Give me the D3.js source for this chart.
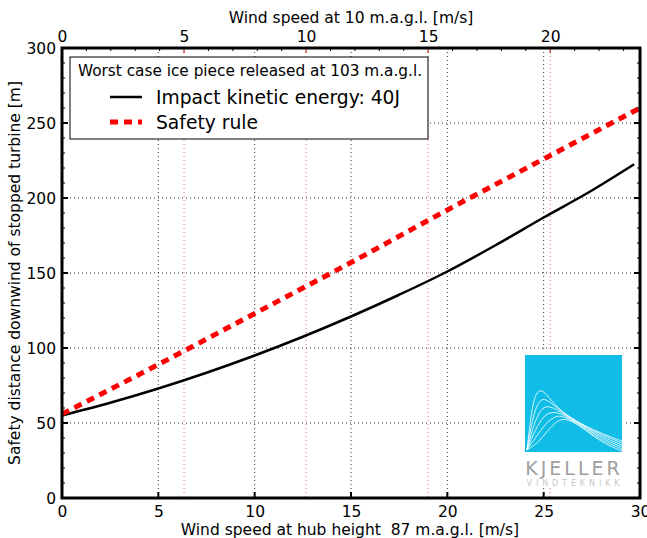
<!DOCTYPE html>
<html><head><meta charset="utf-8">
<script src="https://cdn.jsdelivr.net/npm/d3@7"></script>
<style>body{margin:0;background:#fff}svg{display:block;font-family:"DejaVu Sans",sans-serif}</style>
</head><body><svg id="c" width="647" height="538"></svg>
<script>
// Data
const hubWind = [0, 2.5, 5, 7.5, 10, 12.5, 15, 17.5, 20, 22.5, 25, 27.5, 29.7];
const impactDist = [55, 63.5, 73, 83.5, 95, 107.5, 121, 135.5, 151, 168.5, 187, 205, 222.5];
const ruleWind = [0, 5, 10, 15, 20, 25, 30];
const ruleDist = [56, 89, 123, 157, 192, 226, 260];
const xTicks = [0, 5, 10, 15, 20, 25, 30];
const yTicks = [0, 50, 100, 150, 200, 250, 300];
const topTicks = [0, 5, 10, 15, 20];
const topMax = 23.68;
const legendTitle = "Worst case ice piece released at 103 m.a.g.l.";
const seriesNames = ["Impact kinetic energy: 40J", "Safety rule"];

const svg = d3.select("#c");
const L = 62, R = 640, T = 48, B = 498;
const x = d3.scaleLinear().domain([0, 30]).range([L, R]);
const xt = d3.scaleLinear().domain([0, topMax]).range([L, R]);
const y = d3.scaleLinear().domain([0, 300]).range([B, T]);

// grid
const g = svg.append("g");
g.selectAll(".vg").data(xTicks.slice(1, -1)).enter().append("line")
  .attr("x1", d => x(d)).attr("x2", d => x(d)).attr("y1", T).attr("y2", B)
  .attr("stroke", "#000").attr("stroke-width", 1).attr("stroke-dasharray", "1,3").attr("opacity", 0.8);
g.selectAll(".hg").data(yTicks.slice(1, -1)).enter().append("line")
  .attr("x1", L).attr("x2", R).attr("y1", d => y(d)).attr("y2", d => y(d))
  .attr("stroke", "#000").attr("stroke-width", 1).attr("stroke-dasharray", "1,3").attr("opacity", 0.8);
g.selectAll(".tg").data(topTicks.slice(1)).enter().append("line")
  .attr("x1", d => xt(d)).attr("x2", d => xt(d)).attr("y1", T).attr("y2", B)
  .attr("stroke", "#f00").attr("stroke-width", 1).attr("stroke-dasharray", "1,3").attr("opacity", 0.6);

// logo
const lg = svg.append("g").attr("transform", "translate(525,355)");
lg.append("rect").attr("x", -4).attr("y", -3).attr("width", 105).attr("height", 136).attr("fill", "#fff");
lg.append("rect").attr("width", 97).attr("height", 97).attr("fill", "#0fbde6");
const logoCurves = [
  [[2,95],[7,50],[13,33],[21,38],[31,52],[50,66],[75,78],[97,86]],
  [[2,95],[8,60],[15,43],[23,45],[33,54],[50,66],[75,79],[97,88]],
  [[2,95],[9,68],[17,52],[25,51],[34,56],[50,66],[75,81],[97,90]],
  [[2,95],[10,75],[19,60],[27,57],[35,58],[50,66],[75,83],[97,92]],
  [[2,95],[11,82],[21,68],[29,62],[36,60],[50,67],[75,85],[97,94]],
  [[2,95],[13,88],[23,75],[31,67],[38,63],[52,68],[75,87],[97,96]]
];
const ll = d3.line().curve(d3.curveBasis);
lg.selectAll(".lc").data(logoCurves).enter().append("path")
  .attr("d", d => ll(d)).attr("fill", "none").attr("stroke", "#fff").attr("stroke-width", 0.9).attr("opacity", 0.9);
lg.append("text").attr("x", 49).attr("y", 120).attr("text-anchor", "middle")
  .attr("font-size", 19).attr("fill", "#a0a0a0").attr("letter-spacing", 3).text("KJELLER");
lg.append("text").attr("x", 50).attr("y", 131).attr("text-anchor", "middle")
  .attr("font-size", 8).attr("fill", "#c8c8c8").attr("letter-spacing", 3.9).text("VINDTEKNIKK");

// lines
const line = d3.line().x(d => x(d[0])).y(d => y(d[1])).curve(d3.curveMonotoneX);
svg.append("path").attr("d", line(hubWind.map((w, i) => [w, impactDist[i]])))
  .attr("fill", "none").attr("stroke", "#000").attr("stroke-width", 2.5);
svg.append("path").attr("d", line(ruleWind.map((w, i) => [w, ruleDist[i]])))
  .attr("fill", "none").attr("stroke", "#f00").attr("stroke-width", 5).attr("stroke-dasharray", "8,6");

// axes
const fs = 15.5;
const axB = svg.append("g").attr("transform", `translate(0,${B})`)
  .call(d3.axisBottom(x).tickValues(xTicks).tickSize(0).tickPadding(7).tickFormat(d3.format("d")));
const axL = svg.append("g").attr("transform", `translate(${L},0)`)
  .call(d3.axisLeft(y).tickValues(yTicks).tickSize(0).tickPadding(6).tickFormat(d3.format("d")));
const axT = svg.append("g").attr("transform", `translate(0,${T})`)
  .call(d3.axisTop(xt).tickValues(topTicks).tickSize(0).tickPadding(6).tickFormat(d3.format("d")));
[axB, axL, axT].forEach(a => {
  a.select(".domain").remove();
  a.selectAll("text").attr("font-size", fs).attr("fill", "#000").attr("font-family", "DejaVu Sans");
});
axL.selectAll("text").attr("dy", "0.35em");
axB.selectAll("text").attr("dy", "0.8em");

// tick marks (inward)
const tk = svg.append("g").attr("stroke", "#000");
tk.selectAll(".bt").data(xTicks).enter().append("line")
  .attr("x1", d => x(d)).attr("x2", d => x(d)).attr("y1", B).attr("y2", B - 6).attr("stroke-width", 2);
tk.selectAll(".ymin").data(d3.range(0, 301, 10)).enter().append("line")
  .attr("x1", L).attr("x2", d => L + (d % 50 === 0 ? 6 : 3)).attr("y1", d => y(d)).attr("y2", d => y(d)).attr("stroke-width", d => d % 50 === 0 ? 2 : 1);
tk.selectAll(".yminr").data(d3.range(0, 301, 10)).enter().append("line")
  .attr("x1", R).attr("x2", d => R - (d % 50 === 0 ? 6 : 3)).attr("y1", d => y(d)).attr("y2", d => y(d)).attr("stroke-width", d => d % 50 === 0 ? 2 : 1);
tk.selectAll(".tmin").data(d3.range(0, 24, 1)).enter().append("line")
  .attr("x1", d => xt(d)).attr("x2", d => xt(d)).attr("y1", T).attr("y2", d => T + (d % 5 === 0 ? 5 : 3))
  .attr("stroke", d => d % 5 === 0 ? "#c00" : "#000").attr("stroke-width", 1);

// frame
svg.append("rect").attr("x", L).attr("y", T).attr("width", R - L).attr("height", B - T)
  .attr("fill", "none").attr("stroke", "#000").attr("stroke-width", 3);

// axis titles
svg.append("text").attr("x", 350).attr("y", 535).attr("text-anchor", "middle")
  .attr("font-size", fs).style("white-space", "pre").text("Wind speed at hub height  87 m.a.g.l. [m/s]");
svg.append("text").attr("x", 351).attr("y", 23).attr("text-anchor", "middle")
  .attr("font-size", fs).text("Wind speed at 10 m.a.g.l. [m/s]");
svg.append("text").attr("transform", `translate(20,${(T + B) / 2}) rotate(-90)`).attr("text-anchor", "middle")
  .attr("font-size", fs).text("Safety distance downwind of stopped turbine [m]");

// legend
const lgd = svg.append("g");
lgd.append("rect").attr("x", 70).attr("y", 57).attr("width", 358).attr("height", 82)
  .attr("fill", "#fff").attr("stroke", "#000").attr("stroke-width", 1);
lgd.append("text").attr("x", 250).attr("y", 76).attr("text-anchor", "middle").attr("font-size", 15.3).text(legendTitle);
lgd.append("line").attr("x1", 110).attr("x2", 142).attr("y1", 97).attr("y2", 97).attr("stroke", "#000").attr("stroke-width", 2.5);
lgd.append("line").attr("x1", 110).attr("x2", 142).attr("y1", 122).attr("y2", 122).attr("stroke", "#f00").attr("stroke-width", 5).attr("stroke-dasharray", "8,6");
lgd.selectAll(".lt").data(seriesNames).enter().append("text")
  .attr("x", 156).attr("y", (d, i) => 97 + i * 25).attr("dy", "0.35em").attr("font-size", 18.7).text(d => d);
</script></body></html>
